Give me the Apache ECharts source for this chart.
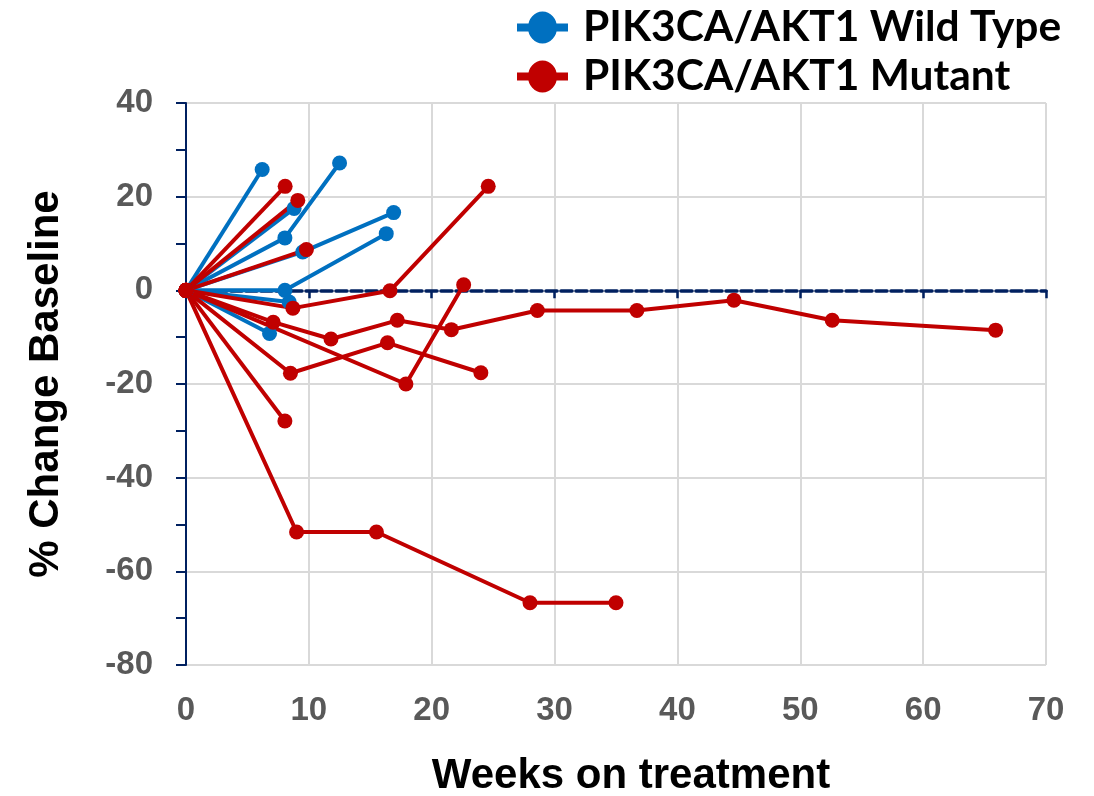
<!DOCTYPE html>
<html>
<head>
<meta charset="utf-8">
<script src="https://cdn.jsdelivr.net/npm/echarts@6/dist/echarts.min.js"></script>
<style>html,body{margin:0;padding:0;background:#fff;overflow:hidden}#c{width:1094px;height:796px}</style>
</head>
<body>
<div id="c"></div>
<script>
// Each patient: list of [weeks, % change]
const wildTypeLines = [
  [[0,0],[6.2,25.8]],
  [[0,0],[8.05,11.2],[12.5,27.2]],
  [[0,0],[8.8,17.5]],
  [[0,0],[9.5,8.2],[16.9,16.6]],
  [[0,0],[8.05,0],[16.3,12.1]],
  [[0,0],[8.4,-2.5]],
  [[0,0],[6.8,-9.2]]
];
const mutantLines = [
  [[0,0],[8.07,22.2]],
  [[0,0],[9.1,19.2]],
  [[0,0],[9.8,8.7]],
  [[0,0],[8.7,-3.8],[16.6,-0.1],[24.6,22.2]],
  [[0,0],[7.1,-6.8],[11.8,-10.4],[17.2,-6.4],[21.6,-8.4],[28.6,-4.3],[36.7,-4.3],[44.6,-2.1],[52.6,-6.4],[65.9,-8.5]],
  [[0,0],[17.9,-20.0],[22.6,1.2]],
  [[0,0],[8.5,-17.7],[16.4,-11.2],[24.0,-17.6]],
  [[0,0],[8.05,-27.9]],
  [[0,0],[9.0,-51.6],[15.5,-51.6],[28.0,-66.7],[35.0,-66.7]]
];
const xTicks = [0,10,20,30,40,50,60,70];
const yTicks = [-80,-60,-40,-20,0,20,40];
const wtName = 'PIK3CA/AKT1 Wild Type';
const mtName = 'PIK3CA/AKT1 Mutant';

const BLUE = '#0070C0', RED = '#C00000', NAVY = '#002060';
const chart = echarts.init(document.getElementById('c'));
const series = [];
function addLines(lines, name, color) {
  lines.forEach(pts => series.push({
    name: name, type: 'line', xAxisIndex: 0, yAxisIndex: 0,
    data: pts, symbol: 'circle', symbolSize: 15, showSymbol: true,
    lineStyle: {color: color, width: 4}, itemStyle: {color: color},
    emphasis: {disabled: true}, animation: false, z: 3
  }));
}
addLines(wildTypeLines, wtName, BLUE);
addLines(mutantLines, mtName, RED);

const legendIcon = 'path://M0,12L51,12L51,20L0,20Z M25.5,0A14.5,16 0 1 1 25.5,32A14.5,16 0 1 1 25.5,0Z';

chart.setOption({
  animation: false,
  grid: {left: 186, right: 48, top: 103, height: 562, containLabel: false, outerBoundsMode: 'none'},
  legend: {
    data: [{name: wtName, icon: legendIcon}, {name: mtName, icon: legendIcon}],
    orient: 'vertical', left: 517, top: 6, padding: 0,
    itemWidth: 51, itemHeight: 32, itemGap: 6,
    textStyle: {fontFamily: 'Lato', fontWeight: 'bold', fontSize: 42.5, lineHeight: 32, color: '#000', padding: [0,0,0,10]}
  },
  xAxis: [{
    type: 'value', min: 0, max: 70, interval: 10,
    axisLine: {onZero: true, show: true, lineStyle: {color: NAVY, width: 3.5, type: [11, 4]}},
    axisTick: {show: true, length: 8, lineStyle: {color: NAVY, width: 2.5}},
    axisLabel: {show: false},
    splitLine: {show: true, lineStyle: {color: '#D9D9D9', width: 2}}
  }, {
    type: 'value', min: 0, max: 70, interval: 10, position: 'bottom',
    axisLine: {onZero: false, show: false}, axisTick: {show: false},
    splitLine: {show: false},
    axisLabel: {show: true, margin: 29, fontFamily: 'Liberation Sans', fontWeight: 'bold', fontSize: 33, color: '#595959',
      formatter: v => xTicks.includes(v) ? String(v) : ''},
    name: 'Weeks on treatment', nameLocation: 'middle', nameGap: 90,
    nameTextStyle: {fontFamily: 'Liberation Sans', fontWeight: 'bold', fontSize: 42, color: '#000', padding: [0,0,0,30]}
  }],
  yAxis: {
    type: 'value', min: -80, max: 40, interval: 20,
    axisLine: {show: true, onZero: false, lineStyle: {color: NAVY, width: 2}},
    axisTick: {show: true, length: 10, lineStyle: {color: NAVY, width: 2}},
    minorTick: {show: true, splitNumber: 2, length: 10, lineStyle: {color: NAVY, width: 2}},
    axisLabel: {margin: 33, fontFamily: 'Liberation Sans', fontWeight: 'bold', fontSize: 33, color: '#595959',
      formatter: v => yTicks.includes(v) ? String(v) : ''},
    splitLine: {show: true, lineStyle: {color: '#D9D9D9', width: 2}},
    name: '% Change Baseline', nameLocation: 'middle', nameGap: 119, nameRotate: 90,
    nameTextStyle: {fontFamily: 'Liberation Sans', fontWeight: 'bold', fontSize: 42, color: '#000'}
  },
  series: series
});
</script>
</body>
</html>
